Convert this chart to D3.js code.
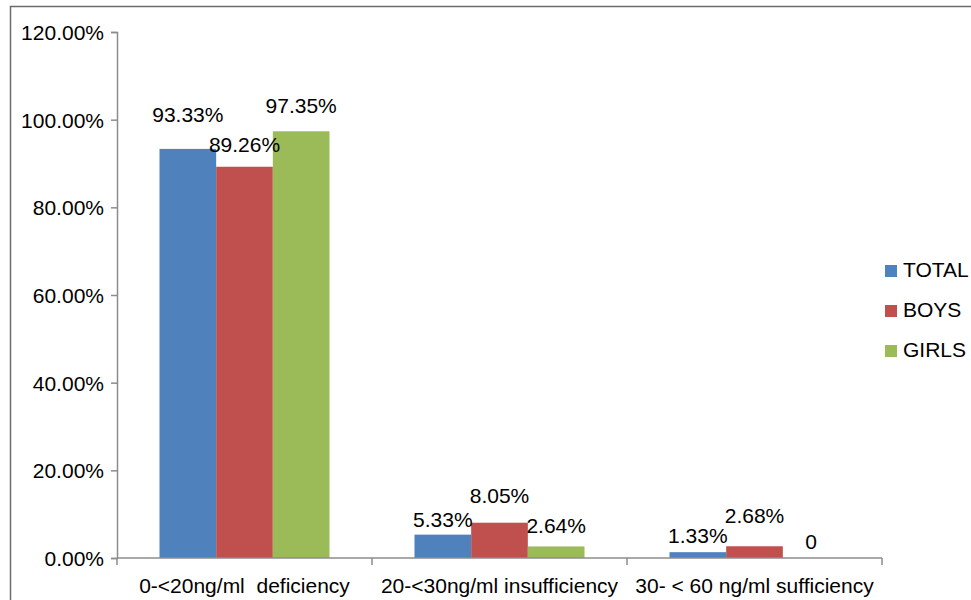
<!DOCTYPE html>
<html>
<head>
<meta charset="utf-8">
<script src="https://cdn.jsdelivr.net/npm/d3@7"></script>
<style>
  html, body { margin: 0; padding: 0; background: #fff; }
  svg { display: block; font-family: "Liberation Sans", Arial, sans-serif; }
</style>
</head>
<body>
<svg id="chart" width="971" height="600"></svg>
<script>
// Vitamin D status by group (percent)
const categories = ["0-<20ng/ml  deficiency", "20-<30ng/ml insufficiency", "30- < 60 ng/ml sufficiency"];
const seriesNames = ["TOTAL", "BOYS", "GIRLS"];
const total = [93.33, 5.33, 1.33];
const boys = [89.26, 8.05, 2.68];
const girls = [97.35, 2.64, 0];
const yTicks = [0, 20, 40, 60, 80, 100, 120];

const seriesValues = [total, boys, girls];
const colors = ["#4F81BD", "#C0504D", "#9BBB59"];
const FONT = "21px";

// Vertical lift of each value label above its bar top (px), per category then series
const labelLift = [[27, 15, 18], [8, 20, 13], [9, 23, 9]];

const svg = d3.select("#chart");
const plot = { left: 117, right: 882, top: 32, bottom: 558 };

// Outer frame (top and left edges visible)
svg.append("path")
  .attr("d", "M10.5,600 V6.5 H971")
  .attr("fill", "none")
  .attr("stroke", "#6b6b6b")
  .attr("stroke-width", 1.5);

const x = d3.scaleBand()
  .domain(categories)
  .range([plot.left, plot.right])
  .paddingInner(0)
  .paddingOuter(0);

// Three touching bars per category, 0.75 bar widths of space on each side
const xInner = d3.scaleBand()
  .domain(seriesNames)
  .range([0, x.bandwidth()])
  .paddingInner(0)
  .paddingOuter(0.75);

const y = d3.scaleLinear().domain([0, 120]).range([plot.bottom, plot.top]);

const fmt = v => v === 0 ? "0" : v.toFixed(2) + "%";

// Bars
categories.forEach((cat, ci) => {
  const g = svg.append("g").attr("transform", `translate(${x(cat)},0)`);
  seriesNames.forEach((s, si) => {
    const v = seriesValues[si][ci];
    g.append("rect")
      .attr("x", xInner(s))
      .attr("y", y(v))
      .attr("width", xInner.bandwidth())
      .attr("height", y(0) - y(v))
      .attr("fill", colors[si]);
  });
});

// Y axis
const yAxis = d3.axisLeft(y)
  .tickValues(yTicks)
  .tickSize(6)
  .tickPadding(7)
  .tickFormat(d => d.toFixed(2) + "%");
const gy = svg.append("g").attr("transform", `translate(${plot.left},0)`).call(yAxis);
gy.select(".domain").attr("stroke", "#8c8c8c").attr("stroke-width", 1.5);
gy.selectAll(".tick line").attr("stroke", "#8c8c8c").attr("stroke-width", 1.5);
gy.selectAll(".tick text")
  .attr("fill", "#000")
  .style("font-family", "'Liberation Sans', Arial, sans-serif")
  .style("font-size", FONT)
  .attr("dy", "0.35em");

// X axis line with category boundary ticks
const boundaries = categories.map(c => x(c)).concat([plot.right]);
svg.append("line")
  .attr("x1", plot.left).attr("x2", plot.right)
  .attr("y1", y(0)).attr("y2", y(0))
  .attr("stroke", "#8c8c8c").attr("stroke-width", 1.5);
svg.selectAll(".xtick").data(boundaries).enter().append("line")
  .attr("x1", d => d).attr("x2", d => d)
  .attr("y1", y(0)).attr("y2", y(0) + 7)
  .attr("stroke", "#8c8c8c").attr("stroke-width", 1.5);

svg.selectAll(".xlabel").data(categories).enter().append("text")
  .attr("x", d => x(d) + x.bandwidth() / 2)
  .attr("y", 593)
  .attr("text-anchor", "middle")
  .style("white-space", "pre")
  .style("font-size", FONT)
  .attr("fill", "#000")
  .text(d => d);

// Value labels
categories.forEach((cat, ci) => {
  seriesNames.forEach((s, si) => {
    const v = seriesValues[si][ci];
    svg.append("text")
      .attr("x", x(cat) + xInner(s) + xInner.bandwidth() / 2)
      .attr("y", y(v) - labelLift[ci][si])
      .attr("text-anchor", "middle")
      .style("font-size", FONT)
      .attr("fill", "#000")
      .text(fmt(v));
  });
});

// Legend
const legend = svg.append("g").attr("transform", "translate(885,265)");
seriesNames.forEach((s, i) => {
  const row = legend.append("g").attr("transform", `translate(0,${i * 40})`);
  row.append("rect").attr("width", 12).attr("height", 12).attr("fill", colors[i]);
  row.append("text")
    .attr("x", 18).attr("y", 12)
    .style("font-size", FONT)
    .attr("fill", "#000")
    .text(s);
});
</script>
</body>
</html>
